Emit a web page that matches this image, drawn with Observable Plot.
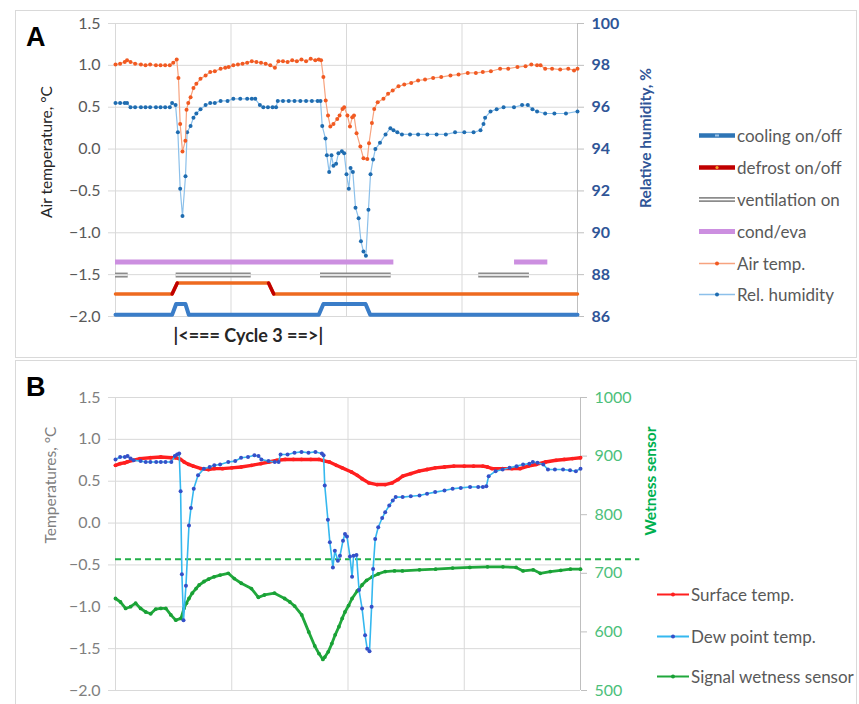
<!DOCTYPE html>
<html><head><meta charset="utf-8">
<script src="https://cdn.jsdelivr.net/npm/d3@7"></script>
<script src="https://cdn.jsdelivr.net/npm/@observablehq/plot@0.6"></script>
<style>
body{margin:0;background:#fff;font-family:Lato,"Open Sans",sans-serif;}
#wrap{position:relative;width:859px;height:704px;overflow:hidden;background:#fff;}
.panel{position:absolute;left:15px;width:840px;border:1px solid #d9d9d9;background:#fff;}
#pa{top:10px;height:346px;}
#pb{top:360px;height:343px;}
.panel svg{position:absolute;left:0;top:0;overflow:visible;}
.plab{position:absolute;font:bold 27px "Liberation Sans",Arial,sans-serif;line-height:27px;color:#000;}
.vlab{position:absolute;white-space:nowrap;transform:translate(-50%,-50%) rotate(-90deg);font-size:15.5px;line-height:15px;}
.leg{position:absolute;white-space:nowrap;font-size:17px;line-height:17px;color:#595959;display:flex;align-items:center;transform:translateY(-50%);}
.leg svg{display:block;margin-right:2px;}
</style></head><body>
<div id="wrap">
  <div class="panel" id="pa"></div>
  <div class="panel" id="pb"></div>
</div>
<script>
// ---------- Panel A data ----------
const airT_t = [0,4,8,10,13,17,22,26,30,35,39,43,47,50,53,54.5,56,58,60.5,61.5,63,65,67.5,70,73.6,78,82,86,91,95,98,102,106,110,114,118,122,126,130,134,138,141,145,149,153,157,161,165,169,173,176,178,180,182,184,186,188.7,192,194,196.5,198,200.8,203,205,206.5,208.7,212,214.7,218,219.5,222,224,227,232,236,240,245,250,256,262,268,275,282,290,297,305,312,318,325,333,340,348,355,360,365,368,372,378,385,392,397,400];
const airT_v = [1.01,1.02,1.04,1.06,1.04,1.02,1.01,1.00,1.01,1.00,1.00,1.00,1.00,1.03,1.07,0.85,0.30,-0.03,0.10,0.47,0.55,0.62,0.73,0.78,0.84,0.88,0.92,0.93,0.96,0.97,0.98,1.00,1.01,1.02,1.03,1.05,1.04,1.03,1.02,1.00,0.97,1.05,1.05,1.04,1.06,1.05,1.07,1.05,1.08,1.06,1.07,1.06,0.86,0.58,0.40,0.27,0.30,0.36,0.40,0.48,0.50,0.40,0.27,0.38,0.40,0.19,0.03,-0.11,-0.12,0.07,0.31,0.48,0.56,0.60,0.66,0.70,0.75,0.77,0.79,0.82,0.83,0.85,0.86,0.88,0.89,0.91,0.91,0.92,0.93,0.96,0.96,0.98,0.99,1.01,1.00,1.00,0.96,0.96,0.95,0.96,0.94,0.96];

const rh_t = [0,4,8,10,13,17,22,26,30,35,39,43,47,49,52,54,56,58,60.6,62,65,67.5,70,73.6,78,82,86,91,97,102,108,114,118,121,125,128,132,136,139,140.5,145,150,155,160,165,170,175,177.5,179,181.8,183,185,187,188.7,191,193,196,198,200,202,203.5,205.5,207.8,210.5,212.5,214.7,216.8,219,220.8,223,225,229,233.8,238,240.7,244,248,255,262,270,278,286,294,302,310,316,318.6,320,324.7,330,336,345,352,357,361,365,372,380,390,400];
const rh_v = [96.2,96.2,96.2,96.2,96.0,96.0,96.0,96.0,96.0,96.0,96.0,96.0,96.0,96.2,96.1,94.8,92.1,90.8,92.7,94.8,95.1,95.5,95.7,95.9,96.1,96.2,96.2,96.3,96.3,96.4,96.4,96.4,96.4,96.4,96.1,96.0,96.0,96.0,96.0,96.3,96.3,96.3,96.3,96.3,96.3,96.3,96.3,96.3,95.1,94.5,93.7,92.9,93.7,93.2,93.3,93.8,93.9,93.8,92.8,92.1,93.1,92.9,91.2,90.7,89.6,89.1,88.9,91.1,92.8,93.5,94.0,94.3,94.7,95.0,94.9,94.8,94.7,94.7,94.7,94.7,94.7,94.7,94.8,94.8,94.8,94.9,95.2,95.5,95.8,95.9,96.0,96.0,96.1,96.1,95.9,95.8,95.7,95.7,95.7,95.8];

// status lines (0 = off, 1 = on)
const cooling_t  = [0,49,52.5,60.5,63.5,176,180,216.5,220.5,400];
const cooling_on = [0,0,1,1,0,0,1,1,0,0];
const defrost_t  = [0,49,53.5,132.5,137,400];
const defrost_on = [0,0,1,1,0,0];
const ventilation_on = [[0,11],[52.5,117.5],[177.5,238.7],[314.5,358.4]];
const condEva_on = [[0,241],[345.5,374.3]];
const cycle3 = [52.5,177.5];

const tempTicks = [-2.0,-1.5,-1.0,-0.5,0.0,0.5,1.0,1.5];
const rhTicks = [86,88,90,92,94,96,98,100];
const wetTicks = [500,600,700,800,900,1000];
const xGrid = [0,100,200,300];

// ---------- Panel B data ----------
const surf_t = [0,4,8,10,15,21,30,39,48,52,56,59,63,67,73.6,80,85,92,100,108,117,125,132,139,146,153,160,168,175,180,184,190,195,203,208,212,218,225,232,238,243,247,254,261,268,275,283,291,300,308,316,320,324,333,341,348,355,362,370,379,386,393,400];
const surf_v = [0.69,0.71,0.72,0.73,0.75,0.77,0.78,0.79,0.78,0.78,0.76,0.73,0.70,0.68,0.65,0.64,0.65,0.65,0.66,0.67,0.69,0.71,0.73,0.75,0.76,0.76,0.76,0.76,0.76,0.74,0.73,0.69,0.66,0.61,0.57,0.53,0.48,0.46,0.46,0.48,0.52,0.56,0.59,0.62,0.64,0.66,0.67,0.68,0.68,0.68,0.68,0.67,0.65,0.65,0.65,0.65,0.68,0.70,0.73,0.75,0.76,0.77,0.78];

const dew_t = [0,4,8,10.4,13,15.6,21.6,26,30,35,39,43,48,51,53,54.8,56,57.1,58.5,60.6,63.2,64.9,67.3,71,76,81,85,90,97,103,108,114,119.5,123,125.5,131.6,137,140.3,142,148,154,160,166,172,177.5,179,180,182.7,184.4,187,188.7,191.3,193.1,195.7,197.4,199.1,201.7,203.5,204.8,207.3,209.5,212.1,214.7,216.5,218.5,220.3,221.6,223.4,226,229.4,232,235.5,238.5,241,247,254,261.5,268,275,283,290,297,305,312,316,319,321,327,333,339,345,350.6,356,359,363,368,372,378,385,391,396,400];
const dew_v = [0.76,0.79,0.79,0.80,0.77,0.75,0.74,0.73,0.73,0.73,0.73,0.73,0.73,0.80,0.82,0.83,0.38,-0.61,-1.16,-0.75,-0.03,0.18,0.41,0.57,0.65,0.67,0.69,0.70,0.73,0.74,0.78,0.79,0.81,0.80,0.76,0.74,0.73,0.73,0.82,0.82,0.84,0.85,0.84,0.85,0.83,0.81,0.45,0.04,-0.23,-0.53,-0.33,-0.45,-0.39,-0.21,-0.13,-0.16,-0.40,-0.64,-0.39,-0.38,-0.80,-1.02,-1.34,-1.50,-1.53,-1.00,-0.55,-0.19,-0.05,0.06,0.13,0.21,0.27,0.31,0.31,0.32,0.33,0.35,0.37,0.39,0.41,0.42,0.43,0.43,0.43,0.44,0.56,0.62,0.64,0.66,0.68,0.70,0.71,0.73,0.72,0.70,0.64,0.64,0.64,0.63,0.62,0.65];

const wet_t = [0,4.3,8.7,13,17.3,21.6,26,30.3,34.6,39,43.3,47.6,51.9,56.3,58.9,61,63.2,66,69.3,72,76.2,80,84.8,90,97,102.2,108.2,116.9,122.9,128.1,136.8,145.5,150,154.1,160.2,166.2,171.4,175,178.4,180.1,183,186.1,189,192.2,195,197.4,200.5,203.5,208,212.1,216,220.8,226,232,240,246.8,261.5,275.3,290,304.8,320,333.3,344.6,350.6,359.3,365.4,374,383,391.3,400];
const wet_v = [657,651,640,643,649,640,634,631,639,640,640,629,620,623,640,649,657,666,674,680,686,690,694,697,700,691,683,674,659,663,666,657,651,644,629,600,576,563,553,557,566,580,595,609,623,634,645,657,670,680,688,694,699,703,704,704,706,707,709,710,711,711,710,704,706,700,703,705,707,707];
const wetThreshold = 724;
const thresholdEnd = 451;

// ---------- helpers ----------
const rows = (t, v) => t.map((d, i) => ({t: d, v: v[i]}));
const tempDomain = [-2, 1.5];
const rhDomain = [86, 100];
const wetDomain = [500, 1000];
const lin = (src, dst) => d3.scaleLinear(src, dst);
const rhToT = lin(rhDomain, tempDomain);
const wetToT = lin(wetDomain, tempDomain);
const coolLevel = lin([0,1], [-1.98, -1.85]);
const defrostLevel = lin([0,1], [-1.73, -1.60]);
const condLevel = -1.35, ventLevel = -1.505;

const airRows = rows(airT_t, airT_v);
const rhRows = rows(rh_t, rh_v).map(d => ({t: d.t, v: rhToT(d.v)}));
const coolRows = rows(cooling_t, cooling_on).map(d => ({t: d.t, v: coolLevel(d.v)}));
const defRows = rows(defrost_t, defrost_on).map(d => ({t: d.t, v: defrostLevel(d.v)}));
const defRamps = [];
for (let i = 1; i < defRows.length; i++) if (defrost_on[i] !== defrost_on[i-1]) defRamps.push([defRows[i-1], defRows[i]]);
const ventRows = ventilation_on.map(([a,b]) => ({x1:a, x2:b, y: ventLevel}));
const condRows = condEva_on.map(([a,b]) => ({x1:a, x2:b, y: condLevel}));

const FONT = "Lato, 'Open Sans', sans-serif";
const GRID = "#d9d9d9";

// ---------- Panel A ----------
const plotA = Plot.plot({
  width: 840, height: 346,
  marginLeft: 99, marginRight: 279, marginTop: 12, marginBottom: 41,
  x: {domain: [0, 400], axis: null},
  y: {domain: tempDomain, axis: null},
  style: {fontFamily: FONT, fontSize: "16px", background: "transparent", overflow: "visible"},
  marks: [
    Plot.ruleX(xGrid, {stroke: GRID}),
    Plot.ruleY(tempTicks, {stroke: GRID}),
    Plot.axisY({ticks: tempTicks, anchor: "left", tickSize: 7, tickPadding: 8, stroke: GRID, strokeOpacity: 1, fill: "#595959", fontSize: 16, tickFormat: d3.format(".1f"), label: null}),
    Plot.ruleX([400], {stroke: "#bfbfbf"}),
    Plot.axisY({ticks: rhTicks.map(rhToT), anchor: "right", tickSize: 6, tickPadding: 8, stroke: "#bfbfbf", strokeOpacity: 1, fill: "#2f5597", fontSize: 16, fontWeight: "bold", tickFormat: d => String(Math.round(rhToT.invert(d))), label: null}),
    // status lines
    Plot.ruleY(condRows, {x1: "x1", x2: "x2", y: "y", stroke: "#cc8fe0", strokeWidth: 5}),
    Plot.ruleY(ventRows, {x1: "x1", x2: "x2", y: "y", stroke: "#8c8c8c", strokeWidth: 5}),
    Plot.ruleY(ventRows, {x1: "x1", x2: "x2", y: "y", stroke: "#ffffff", strokeWidth: 1.4}),
    Plot.line(defRows, {x: "t", y: "v", stroke: "#ee6a1f", strokeWidth: 3.5, strokeLinejoin: "round"}),
    ...defRamps.map(seg => Plot.line(seg, {x: "t", y: "v", stroke: "#c00000", strokeWidth: 3.5, strokeLinecap: "round"})),
    Plot.line(coolRows, {x: "t", y: "v", stroke: "#3a7dc8", strokeWidth: 4, strokeLinejoin: "round"}),
    // series
    Plot.line(rhRows, {x: "t", y: "v", stroke: "#8cc0ea", strokeWidth: 1.2}),
    Plot.dot(rhRows, {x: "t", y: "v", r: 2, fill: "#1f6cb0", stroke: "none"}),
    Plot.line(airRows, {x: "t", y: "v", stroke: "#f7a37f", strokeWidth: 1.2}),
    Plot.dot(airRows, {x: "t", y: "v", r: 2, fill: "#f15a22", stroke: "none"}),
    // cycle label
    Plot.text(["|<=== Cycle 3 ==>|"], {x: [d3.mean(cycle3)], frameAnchor: "bottom", dy: 25, text: d => d, fontSize: 18, fontWeight: "bold", fill: "#262626"})
  ]
});
document.getElementById("pa").appendChild(plotA);

// ---------- Panel B ----------
const surfRows = rows(surf_t, surf_v);
const dewRows = rows(dew_t, dew_v);
const wetRows = rows(wet_t, wet_v).map(d => ({t: d.t, v: wetToT(d.v)}));

const plotB = Plot.plot({
  width: 840, height: 343,
  marginLeft: 99, marginRight: 276, marginTop: 36, marginBottom: 14,
  x: {domain: [0, 400], axis: null},
  y: {domain: tempDomain, axis: null},
  style: {fontFamily: FONT, fontSize: "16px", background: "transparent", overflow: "visible"},
  marks: [
    Plot.ruleX(xGrid, {stroke: GRID}),
    Plot.ruleY(tempTicks, {stroke: GRID}),
    Plot.axisY({ticks: tempTicks, anchor: "left", tickSize: 7, tickPadding: 8, stroke: GRID, strokeOpacity: 1, fill: "#7f7f7f", fontSize: 16, tickFormat: d3.format(".1f"), label: null}),
    Plot.ruleX([400], {stroke: "#bfbfbf"}),
    Plot.axisY({ticks: wetTicks.map(wetToT), anchor: "right", tickSize: 6, tickPadding: 8, stroke: "#bfbfbf", strokeOpacity: 1, fill: "#4cc07a", fontSize: 16, tickFormat: d => String(Math.round(wetToT.invert(d))), label: null}),
    Plot.ruleY([wetToT(wetThreshold)], {x1: 0, x2: thresholdEnd, stroke: "#22b04a", strokeWidth: 2, strokeDasharray: "6,4"}),
    Plot.line(surfRows, {x: "t", y: "v", stroke: "#ff1f1f", strokeWidth: 3.4}),
    Plot.dot(surfRows, {x: "t", y: "v", r: 1.9, fill: "#ff1f1f", stroke: "none"}),
    Plot.line(wetRows, {x: "t", y: "v", stroke: "#20a83c", strokeWidth: 2.8}),
    Plot.dot(wetRows, {x: "t", y: "v", r: 1.9, fill: "#18a035", stroke: "none"}),
    Plot.line(dewRows, {x: "t", y: "v", stroke: "#35b8ef", strokeWidth: 1.6}),
    Plot.dot(dewRows, {x: "t", y: "v", r: 2, fill: "#3550c8", stroke: "none"})
  ]
});
document.getElementById("pb").appendChild(plotB);

// ---------- HTML labels & legends ----------
const wrap = document.getElementById("wrap");
function add(html) { const d = document.createElement("div"); d.innerHTML = html; wrap.appendChild(d.firstElementChild); }
add(`<div class="plab" style="left:26px;top:24px">A</div>`);
add(`<div class="plab" style="left:26px;top:374px">B</div>`);
add(`<div class="vlab" style="left:46px;top:152px;color:#262626">Air temperature, °C</div>`);
add(`<div class="vlab" style="left:645px;top:138px;color:#2f5597;font-weight:bold">Relative humidity, %</div>`);
add(`<div class="vlab" style="left:50px;top:485px;color:#7f7f7f">Temperatures, °C</div>`);
add(`<div class="vlab" style="left:650px;top:481px;color:#00b050;font-weight:bold">Wetness sensor</div>`);

function sw(kind, w) {
  const m = w / 2;
  switch (kind) {
    case "cool": return `<svg width="${w}" height="10"><line x1="0" x2="${w}" y1="5" y2="5" stroke="#2e75b6" stroke-width="4.5"/><line x1="${m-2}" x2="${m+2}" y1="5" y2="5" stroke="#9dc3e6" stroke-width="2"/></svg>`;
    case "def": return `<svg width="${w}" height="10"><line x1="0" x2="${w}" y1="5" y2="5" stroke="#c00000" stroke-width="4.5"/><circle cx="${m}" cy="5" r="1.6" fill="#f4a12a"/></svg>`;
    case "vent": return `<svg width="${w}" height="10"><line x1="0" x2="${w}" y1="5" y2="5" stroke="#8c8c8c" stroke-width="5"/><line x1="0" x2="${w}" y1="5" y2="5" stroke="#fff" stroke-width="1.4"/></svg>`;
    case "cond": return `<svg width="${w}" height="10"><line x1="0" x2="${w}" y1="5" y2="5" stroke="#cc8fe0" stroke-width="5"/></svg>`;
    default: { const [lc, dc, lw] = kind; return `<svg width="${w}" height="10"><line x1="0" x2="${w}" y1="5" y2="5" stroke="${lc}" stroke-width="${lw}"/><circle cx="${m}" cy="5" r="2" fill="${dc}"/></svg>`; }
  }
}
const legA = [
  ["cool", "cooling on/off", 135],
  ["def", "defrost on/off", 167],
  ["vent", "ventilation on", 199],
  ["cond", "cond/eva", 231],
  [["#f7a37f", "#f15a22", 1.5], "Air temp.", 263],
  [["#8cc0ea", "#1f6cb0", 1.5], "Rel. humidity", 294]
];
legA.forEach(([k, label, y]) => add(`<div class="leg" style="left:699px;top:${y}px">${sw(k, 36)}<span>${label}</span></div>`));
const legB = [
  [["#ff1f1f", "#ff1f1f", 2], "Surface temp.", 594],
  [["#35b8ef", "#3550c8", 2], "Dew point temp.", 636],
  [["#20a83c", "#18a035", 2.2], "Signal wetness sensor", 676]
];
legB.forEach(([k, label, y]) => add(`<div class="leg" style="left:657px;top:${y}px">${sw(k, 32)}<span>${label}</span></div>`));
</script>
</body></html>
